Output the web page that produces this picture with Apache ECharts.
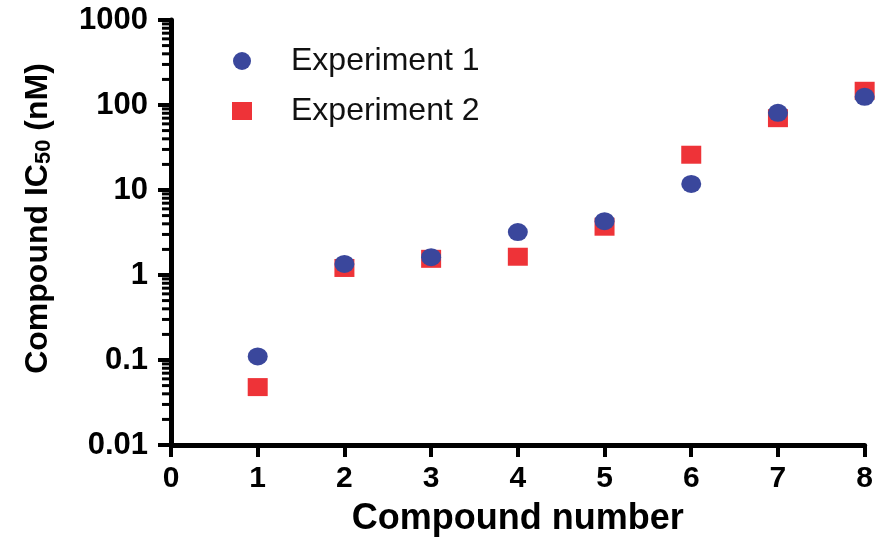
<!DOCTYPE html>
<html>
<head>
<meta charset="utf-8">
<script src="https://cdn.jsdelivr.net/npm/echarts@6/dist/echarts.min.js"></script>
<style>
  html, body { margin: 0; padding: 0; background: #fff; }
  #main { width: 876px; height: 545px; }
</style>
</head>
<body>
<div id="main"></div>
<script>
// compound numbers and IC50 values (nM)
var compounds = [1, 2, 3, 4, 5, 6, 7, 8]
var exp1 = [0.11, 1.35, 1.62, 3.2, 4.3, 11.8, 81, 125]
var exp2 = [0.048, 1.21, 1.55, 1.64, 3.7, 26, 70, 147]
var yTicks = [0.01, 0.1, 1, 10, 100, 1000]
var minorSteps = [2, 3, 4, 5, 6, 7, 8, 9]

var minorTicks = []
for (let i = 0; i < yTicks.length - 1; i++) {
	for (let j = 0; j < minorSteps.length; j++) {
		minorTicks.push([0, yTicks[i] * minorSteps[j]])
	}
}

var pts1 = compounds.map(function (c, i) { return [c, exp1[i]] })
var pts2 = compounds.map(function (c, i) { return [c, exp2[i]] })

var font = '"Liberation Sans", Arial, sans-serif'

var myChart = echarts.init(document.getElementById('main'))
var option = {
	animation: false,
	grid: {
		left: 171,
		right: 10,
		top: 20,
		bottom: 100
	},
	legend: {
		orient: 'vertical',
		left: 227,
		top: 40,
		itemWidth: 20,
		itemHeight: 18,
		itemGap: 18,
		data: [
			{ name: 'Experiment 1', icon: 'circle' },
			{ name: 'Experiment 2', icon: 'rect' }
		],
		textStyle: {
			fontFamily: font,
			fontSize: 32,
			color: '#111',
			padding: [0, 0, 0, 34]
		}
	},
	xAxis: {
		type: 'value',
		min: 0,
		max: 8,
		interval: 1,
		name: 'Compound number',
		nameLocation: 'middle',
		nameGap: 56,
		nameTextStyle: {
			fontFamily: font,
			fontSize: 36,
			fontWeight: 'bold',
			color: '#000'
		},
		splitLine: { show: false },
		axisLine: { onZero: false, lineStyle: { color: '#000', width: 5 } },
		axisTick: { show: true, inside: false, length: 12, lineStyle: { width: 4, color: '#000' } },
		axisLabel: {
			margin: 19,
			fontFamily: font,
			fontSize: 30,
			fontWeight: 'bold',
			color: '#000'
		}
	},
	yAxis: {
		type: 'log',
		logBase: 10,
		min: 0.01,
		max: 1000,
		name: '{a|Compound IC}{b|50}{a| (nM)}',
		nameLocation: 'middle',
		nameGap: 116,
		nameTextStyle: {
			padding: [0, 0, 0, 28],
			rich: {
				a: { fontFamily: font, fontSize: 32, fontWeight: 'bold', color: '#000' },
				b: { fontFamily: font, fontSize: 22, fontWeight: 'bold', color: '#000', padding: [12, 0, 0, 0] }
			}
		},
		splitLine: { show: false },
		axisLine: { onZero: false, lineStyle: { color: '#000', width: 5 } },
		axisTick: { show: true, inside: false, length: 13, lineStyle: { width: 4, color: '#000' } },
		axisLabel: {
			margin: 23,
			fontFamily: font,
			fontSize: 31,
			fontWeight: 'bold',
			color: '#000',
			formatter: function (v) { return String(+v.toPrecision(3)) }
		}
	},
	series: [
		{
			name: 'Experiment 1',
			type: 'scatter',
			data: pts1,
			symbol: 'circle',
			symbolSize: [20, 18],
			itemStyle: { color: '#3a479c', opacity: 1 },
			clip: false,
			z: 4
		},
		{
			name: 'Experiment 2',
			type: 'scatter',
			data: pts2,
			symbol: 'rect',
			symbolSize: [20, 18],
			itemStyle: { color: '#ee3338', opacity: 1 },
			clip: false,
			z: 3
		},
		{
			// minor log ticks (2..9 of each decade) on the y axis
			type: 'custom',
			data: minorTicks,
			clip: false,
			silent: true,
			z: 5,
			renderItem: function (params, api) {
				var p = api.coord([api.value(0), api.value(1)])
				return {
					type: 'line',
					shape: { x1: p[0] - 9, y1: p[1], x2: p[0], y2: p[1] },
					style: { stroke: '#000', lineWidth: 3 }
				}
			}
		}
	]
}

myChart.setOption(option)
</script>
</body>
</html>
